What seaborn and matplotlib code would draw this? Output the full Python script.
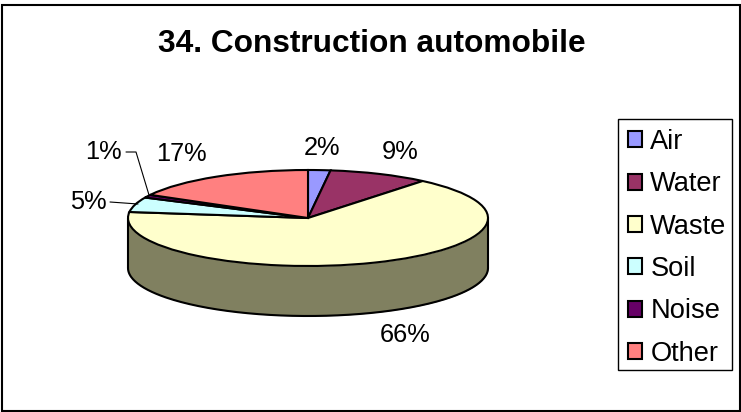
import numpy as np
import seaborn as sns
import matplotlib
matplotlib.use("Agg")
import matplotlib.pyplot as plt
from matplotlib.patches import Rectangle

categories = ['Air', 'Water', 'Waste', 'Soil', 'Noise', 'Other']
shares = [2, 9, 66, 5, 1, 17]
colors = ['#9999FF', '#993366', '#FFFFCC', '#CCFFFF', '#660066', '#FF8080']
side_color = '#808060'
title = '34. Construction automobile'

W, H = 741, 412
CX, CY = 308, 218      # pie centre in pixels
RX, RY = 180, 48       # squashed radii
DEPTH = 50 / RY        # thickness of the disc, in pie units

sns.set_theme(style="white")
plt.rcParams['font.family'] = ['Liberation Sans', 'DejaVu Sans']

fig = plt.figure(figsize=(W / 100, H / 100), dpi=100, facecolor='white')
ax = fig.add_axes([0, 0, 1, 1])

wedges, _ = ax.pie(shares, colors=sns.color_palette(colors), startangle=90, counterclock=False,
                   radius=1, center=(0, 0),
                   wedgeprops={'edgecolor': 'black', 'linewidth': 1.5, 'zorder': 3}, frame=True)
for w in wedges:
    w.set_clip_on(False)

# pie() forces equal aspect, stretch it so the circle turns into the flat ellipse
ax.set_aspect('auto')
ax.set_xlim(-CX / RX, (W - CX) / RX)
ax.set_ylim((CY - H) / RY, CY / RY)
ax.set_xticks([])
ax.set_yticks([])
for s in ax.spines.values():
    s.set_visible(False)

# side wall of the disc
t = np.linspace(np.pi, 2 * np.pi, 200)
ax.fill_between(np.cos(t), np.sin(t), np.sin(t) - DEPTH, color=side_color, zorder=1, lw=0)
ax.plot(np.cos(t), np.sin(t) - DEPTH, color='black', lw=1.5, zorder=2)
ax.plot([-1, -1], [0, -DEPTH], color='black', lw=1.5, zorder=2)
ax.plot([1, 1], [0, -DEPTH], color='black', lw=1.5, zorder=2)


def px(x, y):
    return x / W, 1 - y / H


# outer border
fig.add_artist(Rectangle(px(2, 411), 737.5 / W, 406.5 / H, transform=fig.transFigure,
                         fill=False, edgecolor='black', lw=1.5))

fig.text(*px(372, 44), title, fontsize=22.8, fontweight='bold', ha='center', va='center', color='black')

labels = ['2%', '9%', '66%', '5%', '1%', '17%']
label_pos = [(322, 148), (400, 152), (405, 335), (88, 202), (103, 152), (181, 154)]
for lab, pos in zip(labels, label_pos):
    fig.text(*px(*pos), lab, fontsize=18.3, ha='center', va='center', color='black')

# leader lines for the small slices
for line in [[(126, 152), (136, 152), (149, 195)], [(110, 202), (138, 204)]]:
    xs = [p[0] / W for p in line]
    ys = [1 - p[1] / H for p in line]
    fig.add_artist(plt.Line2D(xs, ys, color='black', lw=0.8))

# legend box is drawn apart so the inner spacing can stay tight
fig.add_artist(Rectangle(px(618, 370), 114 / W, 251 / H, transform=fig.transFigure,
                         facecolor='white', edgecolor='black', lw=1, zorder=4))
leg = ax.legend(wedges, categories, loc='upper left', bbox_to_anchor=px(628, 129),
                bbox_transform=fig.transFigure, fontsize=19.6, frameon=False, labelcolor='black',
                borderaxespad=0, borderpad=0, handlelength=0.52, handleheight=0.52,
                handletextpad=0.3, labelspacing=0.6)
leg.set_zorder(5)
leg.remove()
fig.add_artist(leg)

fig.savefig('out.png', dpi=100)
